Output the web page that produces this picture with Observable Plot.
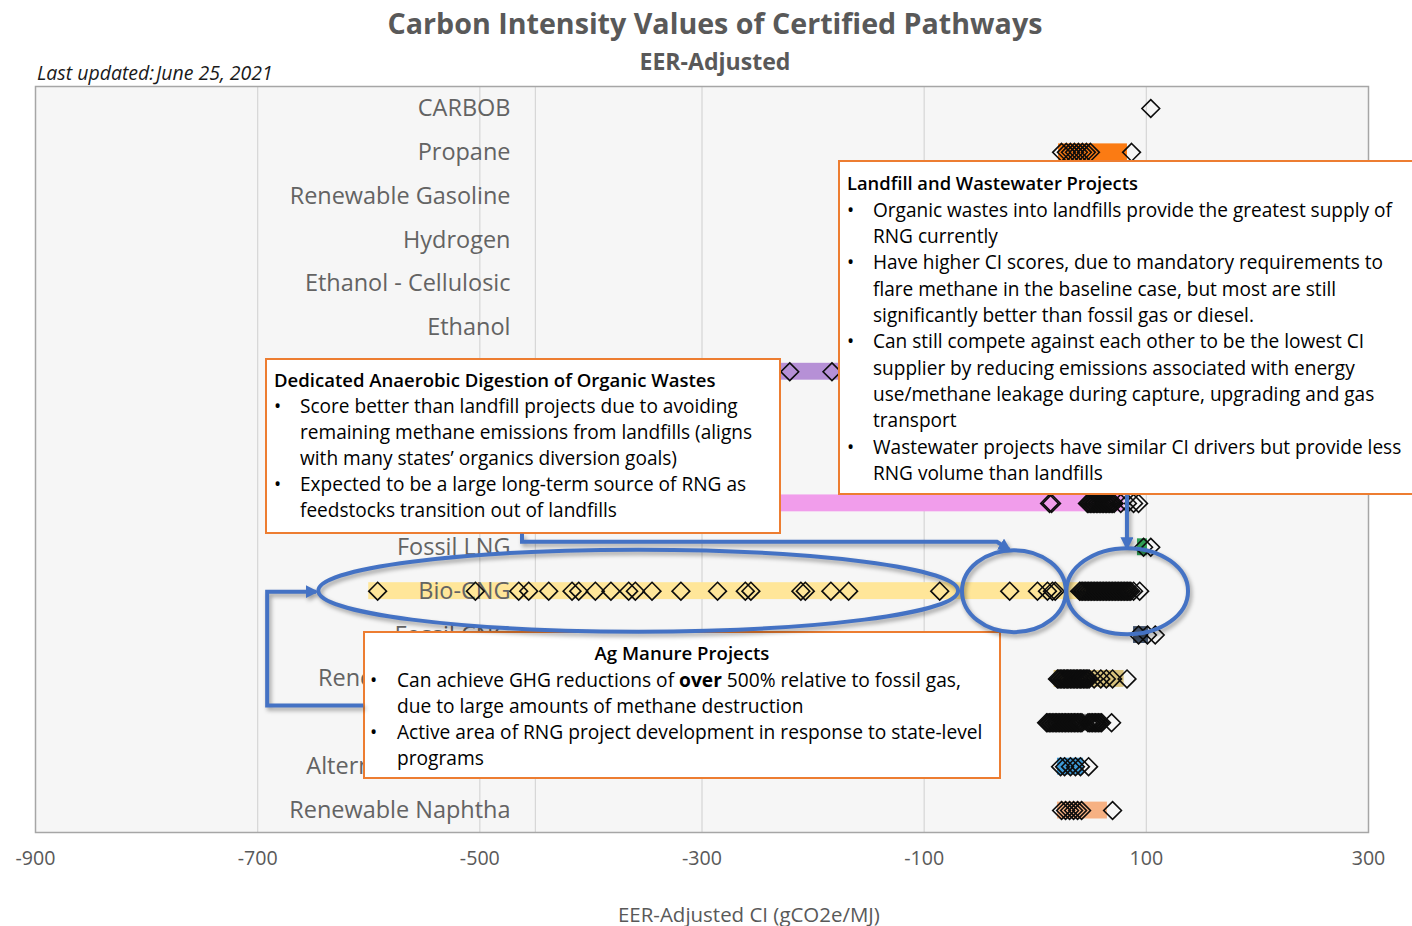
<!DOCTYPE html>
<html>
<head>
<meta charset="utf-8">
<script src="https://cdn.jsdelivr.net/npm/d3@7"></script>
<script src="https://cdn.jsdelivr.net/npm/@observablehq/plot@0.6"></script>
<style>
html, body { margin: 0; padding: 0; background: #fff; overflow: hidden; }
#wrap { position: relative; width: 1412px; height: 926px; overflow: hidden; font-family: "Open Sans", sans-serif; }
#wrap > svg { position: absolute; left: 0; top: 0; }
.txt { position: absolute; white-space: nowrap; }
.box { position: absolute; box-sizing: border-box; border: 2px solid #ED7D31; background: #fff; color: #000; }
.ln { position: absolute; white-space: nowrap; }
</style>
</head>
<body>
<div id="wrap"></div>
<script>
// ---------------- data ----------------
const categories = ["CARBOB", "Propane", "Renewable Gasoline", "Hydrogen", "Ethanol - Cellulosic", "Ethanol",
  "Electricity", "Fossil L-CNG", "Bio-L-CNG", "Bio-LNG", "Fossil LNG", "Bio-CNG", "Fossil CNG",
  "Renewable Diesel", "Biodiesel", "Alternative Jet Fuel", "Renewable Naphtha"];
const xTicks = [-900, -700, -500, -300, -100, 100, 300];
const gridValues = [-700, -500, -450, -300, -100, 100];

// range bands (min..max of certified pathways per fuel)
const rangeCategory = ["Propane", "Electricity", "Bio-LNG", "Fossil LNG", "Bio-CNG", "Fossil CNG",
  "Renewable Diesel", "Biodiesel", "Alternative Jet Fuel", "Renewable Naphtha"];
const rangeLow  = [21, -232, -300, 92, -600, 88.5, 17, 12, 20, 20];
const rangeHigh = [83, -160, 80, 101, 86, 102, 80, 60, 43.5, 65];

// certified pathway CI values
const ciCARBOB = [104];
const ciPropane = [23.7, 28, 31.7, 35.3, 38.9, 42.5, 46.1, 49.7, 86.7];
const ciElectricity = [-221, -183];
const ciBioLNG = [12.9, 14.7, 47, 48.3, 49.6, 51, 52.3, 53.6, 55, 56.3, 57.6, 59, 60.3, 61.6, 63, 64.3,
  65.6, 67, 68.3, 69.6, 71, 77, 83, 88.5, 93];
const ciFossilLNG = [97.5, 104];
const ciBioCNG = [-592, -504, -465, -456, -438, -417, -411, -396, -382, -366, -360, -345, -319, -286,
  -261, -256, -211, -207, -184, -168, -86, -23, 2, 11, 15.5, 18,
  40, 41.3, 42.7, 44, 45.4, 46.7, 48.1, 49.4, 50.8, 52.1, 53.5, 54.8, 56.2, 57.5, 58.9, 60.2, 61.6,
  62.9, 64.3, 65.6, 67, 68.3, 69.7, 71, 72.4, 73.7, 75.1, 76.4, 77.8, 79.1, 80.5, 81.8, 83.2, 84.5,
  86, 88.5, 94];
const ciFossilCNG = [93, 101, 108];
const ciRenewableDiesel = [20, 21.3, 22.5, 23.9, 25.2, 26.4, 27.8, 29, 30.3, 31.7, 33, 34.2, 35.6,
  36.9, 38.1, 39.5, 40.8, 42, 43.4, 44.7, 45.9, 47.3, 48.5, 53, 59, 64, 69.6, 82.6];
const ciBiodiesel = [10.2, 11.4, 12.7, 14, 15.3, 16.7, 18, 19.3, 20.6, 22, 23.3, 24.6, 26, 27.3, 28.6,
  30, 31.3, 32.6, 34, 35.3, 36.6, 38, 39.3, 40.6, 42, 47.5, 49, 50.3, 51.6, 53, 54.3, 55.6, 57,
  58.3, 59.7, 68.7];
const ciAltJet = [22.8, 26.4, 31.7, 36.2, 40.7, 48];
const ciNaphtha = [23.7, 27.3, 30.9, 34.5, 38.1, 41.7, 69.6];

// ---------------- styles ----------------
const rangeColors = {
  "Propane": "#fb7b13", "Electricity": "#b690d6", "Bio-LNG": "#f19deb", "Fossil LNG": "#2f9e55",
  "Bio-CNG": "#ffe699", "Fossil CNG": "#43536b", "Renewable Diesel": "#d8c27c", "Biodiesel": "#8c8c8c",
  "Alternative Jet Fuel": "#3e9bd8", "Renewable Naphtha": "#f6b183"
};

// ---------------- tables ----------------
const points = [];
const add = (cat, arr) => arr.forEach(v => points.push({category: cat, ci: v}));
add("CARBOB", ciCARBOB); add("Propane", ciPropane); add("Electricity", ciElectricity);
add("Bio-LNG", ciBioLNG); add("Fossil LNG", ciFossilLNG); add("Bio-CNG", ciBioCNG);
add("Fossil CNG", ciFossilCNG); add("Renewable Diesel", ciRenewableDiesel); add("Biodiesel", ciBiodiesel);
add("Alternative Jet Fuel", ciAltJet); add("Renewable Naphtha", ciNaphtha);
const ranges = rangeCategory.map((c, i) => ({category: c, low: rangeLow[i], high: rangeHigh[i], color: rangeColors[c]}));

// ---------------- font fitting ----------------
const FAMILY = '"Open Sans", sans-serif';
const ctx = document.createElement("canvas").getContext("2d");
function fit(text, target, weight = "400", style = "normal") {
  ctx.font = `${style} ${weight} 100px ${FAMILY}`;
  const w = ctx.measureText(text.replace(/<[^>]+>/g, "")).width;
  return w > 0 ? 100 * target / w : 18;
}

const labelSize = fit("Renewable Gasoline", 221);
const tickFont = fit("-900", 40);

// ---------------- chart ----------------
const wrap = document.getElementById("wrap");
const chart = Plot.plot({
  width: 1412, height: 926,
  marginLeft: 35, marginRight: 44, marginTop: 86, marginBottom: 94,
  x: {domain: [-900, 300]},
  y: {domain: categories, padding: 0, round: false},
  color: {type: "identity"},
  style: {background: "transparent", fontFamily: FAMILY, overflow: "visible"},
  marks: [
    Plot.frame({fill: "#f6f6f6", stroke: null}),
    Plot.ruleX(gridValues, {stroke: "#d6d6d6", strokeWidth: 1.2}),
    Plot.barX(ranges, {x1: "low", x2: "high", y: "category", fill: "color", insetTop: 13.5, insetBottom: 13.5}),
    Plot.axisY({anchor: "left", tickSize: 0, tickPadding: 0, dx: 475, fontSize: labelSize, color: "#636363", label: null}),
    Plot.dot(points, {x: "ci", y: "category", symbol: "diamond2", r: 8, stroke: "#0d0d0d", strokeWidth: 1.6, fill: "none"}),
    Plot.frame({stroke: "#a6a6a6", strokeWidth: 1.5}),
    Plot.axisX({ticks: xTicks, tickSize: 0, tickPadding: 19, fontSize: tickFont, color: "#595959", label: null, tickFormat: d => String(d)})
  ]
});
wrap.appendChild(chart);

// ---------------- titles ----------------
function addText(text, opts) {
  const d = document.createElement("div");
  d.className = "txt";
  d.textContent = text;
  const size = fit(text, opts.width, opts.weight || "400", opts.style || "normal");
  const lh = size * 1.4;
  Object.assign(d.style, {
    fontSize: size + "px", lineHeight: lh + "px", fontWeight: opts.weight || "400",
    fontStyle: opts.style || "normal", color: opts.color || "#595959",
    top: (opts.cy - lh / 2 - 0.03 * size) + "px"
  });
  if (opts.cx !== undefined) { d.style.left = (opts.cx - opts.width / 2 - 10) + "px"; d.style.width = (opts.width + 20) + "px"; d.style.textAlign = "center"; }
  else { d.style.left = opts.left + "px"; d.style.width = (opts.width + 30) + "px"; }
  wrap.appendChild(d);
}
addText("Carbon Intensity Values of Certified Pathways", {cx: 715, cy: 24, width: 655, weight: "700"});
addText("EER-Adjusted", {cx: 715, cy: 62, width: 151, weight: "700"});
addText("Last updated:\u200AJune 25, 2021", {left: 37, cy: 73, width: 236, style: "italic", color: "#1a1a1a"});
addText("EER-Adjusted CI (gCO2e/MJ)", {left: 618, cy: 915, width: 262, color: "#595959"});

// ---------------- annotation boxes ----------------
const landfillTitle = "Landfill and Wastewater Projects";
const landfillLines = [
  ["•", "Organic wastes into landfills provide the greatest supply of"],
  ["", "RNG currently"],
  ["•", "Have higher CI scores, due to mandatory requirements to"],
  ["", "flare methane in the baseline case, but most are still"],
  ["", "significantly better than fossil gas or diesel."],
  ["•", "Can still compete against each other to be the lowest CI"],
  ["", "supplier by reducing emissions associated with energy"],
  ["", "use/methane leakage during capture, upgrading and gas"],
  ["", "transport"],
  ["•", "Wastewater projects have similar CI drivers but provide less"],
  ["", "RNG volume than landfills"]
];
const digestionTitle = "Dedicated Anaerobic Digestion of Organic Wastes";
const digestionLines = [
  ["•", "Score better than landfill projects due to avoiding"],
  ["", "remaining methane emissions from landfills (aligns"],
  ["", "with many states’ organics diversion goals)"],
  ["•", "Expected to be a large long-term source of RNG as"],
  ["", "feedstocks transition out of landfills"]
];
const manureTitle = "Ag Manure Projects";
const manureLines = [
  ["•", "Can achieve GHG reductions of <b>over</b> 500% relative to fossil gas,"],
  ["", "due to large amounts of methane destruction"],
  ["•", "Active area of RNG project development in response to state-level"],
  ["", "programs"]
];

function buildBox(b) {
  const el = document.createElement("div");
  el.className = "box";
  Object.assign(el.style, {left: b.left + "px", top: b.top + "px", width: b.width + "px", height: b.height + "px"});
  const bodySize = fit(b.fitLine, b.fitWidth, "400");
  const titleSize = fit(b.title, b.titleWidth, "600");
  const mk = (i, html, left, size, weight, extra) => {
    const d = document.createElement("div");
    d.className = "ln";
    d.innerHTML = html;
    Object.assign(d.style, {
      top: (b.firstTop + i * b.lineH - 0.03 * size) + "px", left: left + "px", fontSize: size + "px",
      fontWeight: weight, lineHeight: b.lineH + "px", height: b.lineH + "px"
    }, extra || {});
    el.appendChild(d);
  };
  if (b.titleCenter) mk(0, b.title, 0, titleSize, 600, {width: "100%", textAlign: "center"});
  else mk(0, b.title, b.titleX, titleSize, 600);
  b.lines.forEach(([bul, txt], i) => {
    if (bul) mk(i + 1, bul, b.bulletX, bodySize, 400);
    mk(i + 1, txt, b.textX, bodySize, 400);
  });
  wrap.appendChild(el);
}

buildBox({left: 838, top: 160, width: 600, height: 335, firstTop: 8.8, lineH: 26.36,
  titleX: 7, bulletX: 7, textX: 33, title: landfillTitle, titleWidth: 291, lines: landfillLines,
  fitLine: landfillLines[0][1], fitWidth: 519});
buildBox({left: 265, top: 358, width: 516, height: 176, firstTop: 8, lineH: 26,
  titleX: 7, bulletX: 7, textX: 33, title: digestionTitle, titleWidth: 442, lines: digestionLines,
  fitLine: digestionLines[0][1], fitWidth: 438});
buildBox({left: 363, top: 631, width: 638, height: 148, firstTop: 7.9, lineH: 26.25,
  titleCenter: true, bulletX: 5, textX: 32, title: manureTitle, titleWidth: 175, lines: manureLines,
  fitLine: manureLines[2][1], fitWidth: 586});

// ---------------- blue call-outs (positioned through the chart's scales) ----------------
const xs = chart.scale("x"), ys = chart.scale("y");
const px = v => xs.apply(v);
const py = (c, d = 0) => ys.apply(c) + ys.bandwidth / 2 + d;

const ovals = [
  {x1: -645, x2: -69, cat: "Bio-CNG", dy: 0, ry: 41},
  {x1: -65.5, x2: 28, cat: "Bio-CNG", dy: 0.5, ry: 41},
  {x1: 28.5, x2: 138, cat: "Bio-CNG", dy: 0.5, ry: 43}
];
const connectors = [
  {pts: [[-604.5, "Renewable Diesel", 27], [-691, "Renewable Diesel", 27], [-691, "Bio-CNG", 1], [-647, "Bio-CNG", 1]]},
  {pts: [[-461.6, "Fossil LNG", -13], [-461.6, "Fossil LNG", -5], [-34, "Fossil LNG", -5], [-23, "Fossil LNG", 3]]},
  {pts: [[83, "Bio-LNG", -8], [83, "Fossil LNG", 1]]}
];

const blue = "#4472C4";
const ov = d3.select(wrap).append("svg")
  .attr("width", 1412).attr("height", 926)
  .style("position", "absolute").style("left", 0).style("top", 0).style("pointer-events", "none");
ov.append("defs").append("marker")
  .attr("id", "ah").attr("viewBox", "0 0 10 10").attr("refX", 8).attr("refY", 5)
  .attr("markerWidth", 13).attr("markerHeight", 13).attr("markerUnits", "userSpaceOnUse").attr("orient", "auto")
  .append("path").attr("d", "M0,0L10,5L0,10z").attr("fill", blue);
const g = ov.append("g").style("filter", "drop-shadow(2px 3px 2px rgba(0,0,0,0.35))");
g.selectAll("ellipse").data(ovals).join("ellipse")
  .attr("cx", d => (px(d.x1) + px(d.x2)) / 2).attr("cy", d => py(d.cat, d.dy))
  .attr("rx", d => (px(d.x2) - px(d.x1)) / 2).attr("ry", d => d.ry)
  .attr("fill", "none").attr("stroke", blue).attr("stroke-width", 4);
g.selectAll("polyline").data(connectors).join("polyline")
  .attr("points", d => d.pts.map(([v, c, dy]) => `${px(v)},${py(c, dy)}`).join(" "))
  .attr("fill", "none").attr("stroke", blue).attr("stroke-width", 4)
  .attr("stroke-linejoin", "miter").attr("marker-end", "url(#ah)");
</script>
</body>
</html>
